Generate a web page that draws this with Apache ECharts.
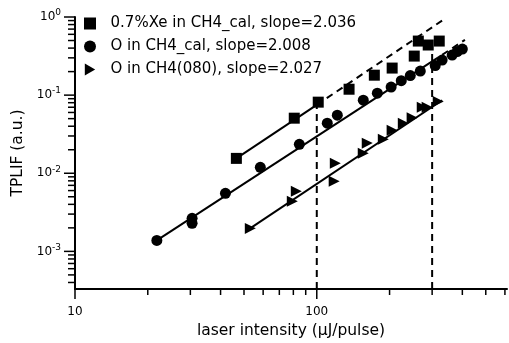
<!DOCTYPE html>
<html>
<head>
<meta charset="utf-8">
<script src="https://cdn.jsdelivr.net/npm/echarts@6/dist/echarts.min.js"></script>
<style>
  html, body { margin: 0; padding: 0; background: #fff; }
  #chart { width: 509px; height: 343px; }
</style>
</head>
<body>
<div id="chart"></div>
<script>
const xeX = [46.5, 80.7, 101.4, 136, 173, 205, 253, 263, 289, 321]
const xeY = [0.0155, 0.0507, 0.0813, 0.119, 0.180, 0.222, 0.316, 0.492, 0.438, 0.492]

const oCalX = [21.8, 30.5, 30.5, 41.9, 58.4, 84.7, 110.5, 121.6, 155.7, 178, 203, 223.6, 243.6, 268, 309, 330, 363, 381, 400]
const oCalY = [0.00138, 0.00265, 0.00229, 0.00554, 0.0119, 0.0235, 0.0438, 0.0554, 0.0863, 0.106, 0.127, 0.153, 0.178, 0.203, 0.239, 0.281, 0.326, 0.361, 0.389]

const o080X = [53.1, 79.2, 82.3, 118, 119.3, 155.7, 161.7, 188.4, 205, 228, 248, 273, 286, 318]
const o080Y = [0.00197, 0.00438, 0.00588, 0.00789, 0.0134, 0.0180, 0.0243, 0.0273, 0.0356, 0.0438, 0.0515, 0.0702, 0.0702, 0.0826]

// fit lines (end points)
const xeFitSolid = [[46.5, 0.0155], [100, 0.075]]
const xeFitDash = [[100, 0.075], [330, 0.9]]
const oCalFitSolid = [[21.8, 0.00138], [300, 0.27]]
const oCalFitDash = [[300, 0.27], [410, 0.51]]
const o080FitSolid = [[53, 0.00197], [330, 0.086]]

// vertical markers
const xMin = 10, xMax = 612, yMin = 3.3e-4, yMax = 1
const mark100 = [[100, yMin], [100, 0.088]]
const mark300 = [[300, yMin], [300, 0.38]]

const legendNames = ['0.7%Xe in CH4_cal, slope=2.036', 'O in CH4_cal, slope=2.008', 'O in CH4(080), slope=2.027']

// axis ticks
const xMajorTicks = [10, 100]
const xMinorTicks = [20, 30, 40, 50, 60, 70, 80, 90, 200, 300, 400, 500, 600]
const yMajorTicks = [0.001, 0.01, 0.1, 1]
const yMinorTicks = [4e-4, 5e-4, 6e-4, 7e-4, 8e-4, 9e-4,
  0.002, 0.003, 0.004, 0.005, 0.006, 0.007, 0.008, 0.009,
  0.02, 0.03, 0.04, 0.05, 0.06, 0.07, 0.08, 0.09,
  0.2, 0.3, 0.4, 0.5, 0.6, 0.7, 0.8, 0.9]

const font = 'DejaVu Sans'
const triPath = 'path://M0,0L10,5.77L0,11.55Z'

function zip(xs, ys) { return xs.map((x, i) => [x, ys[i]]) }

function fitLine(data, dashed) {
  return {
    type: 'line',
    data,
    showSymbol: false,
    silent: true,
    lineStyle: { color: '#000', width: 2, type: dashed ? [7, 5] : 'solid' },
    z: 1
  }
}

function dots(name, symbol, data) {
  return {
    name, type: 'scatter', symbol, symbolSize: 11,
    itemStyle: { color: '#000', opacity: 1 }, data, z: 3
  }
}

const chart = echarts.init(document.getElementById('chart'))
chart.setOption({
  animation: false,
  grid: { left: 75, right: 2, top: 17, bottom: 54, outerBoundsMode: 'none' },
  legend: {
    data: legendNames,
    orient: 'vertical',
    left: 79,
    top: 11,
    itemWidth: 12,
    itemHeight: 12,
    itemGap: 8,
    selectedMode: false,
    formatter: n => '  ' + n,
    textStyle: { fontFamily: font, fontSize: 15, color: '#000' }
  },
  xAxis: {
    type: 'log',
    min: xMin,
    max: xMax,
    name: 'laser intensity (μJ/pulse)',
    nameLocation: 'middle',
    nameGap: 34,
    nameTextStyle: { fontFamily: font, fontSize: 15.5, color: '#000' },
    axisLine: { lineStyle: { color: '#000', width: 2 } },
    axisTick: { show: false },
    splitLine: { show: false },
    axisLabel: {
      margin: 17,
      showMaxLabel: false,
      fontFamily: font,
      fontSize: 12,
      color: '#000',
      formatter: v => String(Math.round(v))
    }
  },
  yAxis: {
    type: 'log',
    min: yMin,
    max: yMax,
    name: 'TPLIF (a.u.)',
    nameLocation: 'middle',
    nameGap: 46,
    nameTextStyle: { fontFamily: font, fontSize: 15.5, color: '#000' },
    axisLine: { lineStyle: { color: '#000', width: 2 } },
    axisTick: { show: false },
    splitLine: { show: false },
    axisLabel: {
      margin: 14,
      showMinLabel: false,
      formatter: v => '{b|10}{s|' + Math.round(Math.log10(v)) + '}',
      rich: {
        b: { fontFamily: font, fontSize: 12, color: '#000' },
        s: { fontFamily: font, fontSize: 9, color: '#000', verticalAlign: 'top', padding: [0, 0, 8, 0] }
      }
    }
  },
  series: [
    fitLine(xeFitSolid, false),
    fitLine(xeFitDash, true),
    fitLine(oCalFitSolid, false),
    fitLine(oCalFitDash, true),
    fitLine(o080FitSolid, false),
    fitLine(mark100, true),
    fitLine(mark300, true),
    dots(legendNames[0], 'rect', zip(xeX, xeY)),
    dots(legendNames[1], 'circle', zip(oCalX, oCalY)),
    dots(legendNames[2], triPath, zip(o080X, o080Y))
  ]
})

// log-style ticks placed through the axis scales
const x0 = chart.convertToPixel({ xAxisIndex: 0 }, xMin)
const y0 = chart.convertToPixel({ yAxisIndex: 0 }, yMin)
const tickStyle = { stroke: '#000', lineWidth: 1.5 }
const ticks = []
function xTick(v, len) {
  const x = chart.convertToPixel({ xAxisIndex: 0 }, v)
  ticks.push({ type: 'line', silent: true, shape: { x1: x, y1: y0, x2: x, y2: y0 + len }, style: tickStyle })
}
function yTick(v, len) {
  const y = chart.convertToPixel({ yAxisIndex: 0 }, v)
  ticks.push({ type: 'line', silent: true, shape: { x1: x0, y1: y, x2: x0 - len, y2: y }, style: tickStyle })
}
xMajorTicks.forEach(v => xTick(v, 10))
xMinorTicks.forEach(v => xTick(v, 6))
yMajorTicks.forEach(v => yTick(v, 11))
yMinorTicks.forEach(v => yTick(v, 7))
chart.setOption({ graphic: ticks })
</script>
</body>
</html>
